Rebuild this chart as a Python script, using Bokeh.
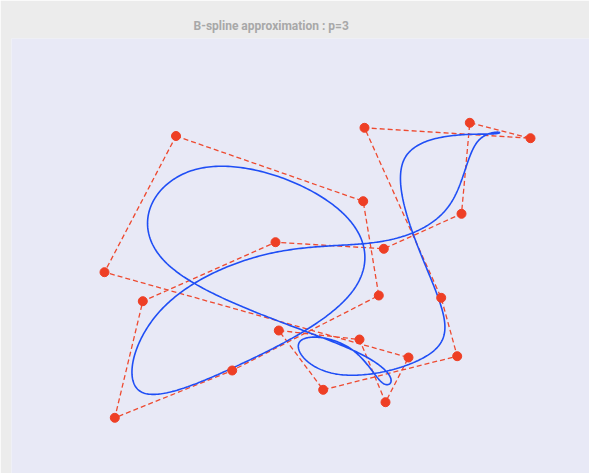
import numpy as np
from bokeh.plotting import figure
from bokeh.models import Range1d
from bokeh.embed import file_html
from bokeh.resources import INLINE

# Control points of the closed (periodic) B-spline, y measured upward
ctrl_x = [175.5, 362.7, 378.3, 231.7, 114.3, 142.3, 275.0, 383.3, 461.0, 469.3,
          530.0, 364.0, 440.7, 456.7, 322.7, 278.3, 359.0, 385.0, 408.0, 104.0]
ctrl_y = [337.5, 272.3, 178.0, 103.0, 55.7, 172.3, 231.3, 224.7, 259.7, 350.7,
          335.3, 345.7, 175.7, 117.3, 83.7, 143.0, 134.0, 71.3, 116.0, 201.3]
degree = 3
title_text = "B-spline approximation : p=%d" % degree

# Uniform periodic cubic B-spline evaluation
P = np.column_stack([ctrl_x, ctrl_y])
n = len(P)
t = np.linspace(0, 1, 60, endpoint=False)
b0 = (1 - t) ** 3 / 6
b1 = (3 * t**3 - 6 * t**2 + 4) / 6
b2 = (-3 * t**3 + 3 * t**2 + 3 * t + 1) / 6
b3 = t**3 / 6
pts = []
for i in range(n):
    p0, p1, p2, p3 = P[i], P[(i + 1) % n], P[(i + 2) % n], P[(i + 3) % n]
    seg = np.outer(b0, p0) + np.outer(b1, p1) + np.outer(b2, p2) + np.outer(b3, p3)
    pts.append(seg)
curve = np.vstack(pts + [pts[0][:1]])

p = figure(width=589, height=473, output_backend="svg", toolbar_location=None,
           x_axis_type=None, y_axis_type=None,
           x_range=Range1d(11, 589), y_range=Range1d(0, 435),
           min_border_left=11, min_border_right=0, min_border_bottom=0, min_border_top=38,
           title=title_text)
p.grid.visible = False
p.outline_line_color = None
p.background_fill_color = "#e8e9f6"
p.border_fill_color = "#ececec"
p.title.align = "left"
p.title.offset = 182
p.title.text_color = "#a8a8a8"
p.title.text_font = "Roboto"
p.title.text_font_style = "bold"
p.title.text_font_size = "12px"
p.title.standoff = 12

poly_x = list(ctrl_x) + [ctrl_x[0]]
poly_y = list(ctrl_y) + [ctrl_y[0]]
p.line(poly_x, poly_y, line_color="#ee4a30", line_width=1.3, line_dash="5 3")
p.line(curve[:, 0], curve[:, 1], line_color="#1f4ef5", line_width=1.6)
p.scatter(ctrl_x, ctrl_y, size=9, fill_color="#ee3f25", line_color="#ee3f25")

open("out.html", "w").write(file_html(p, INLINE))
